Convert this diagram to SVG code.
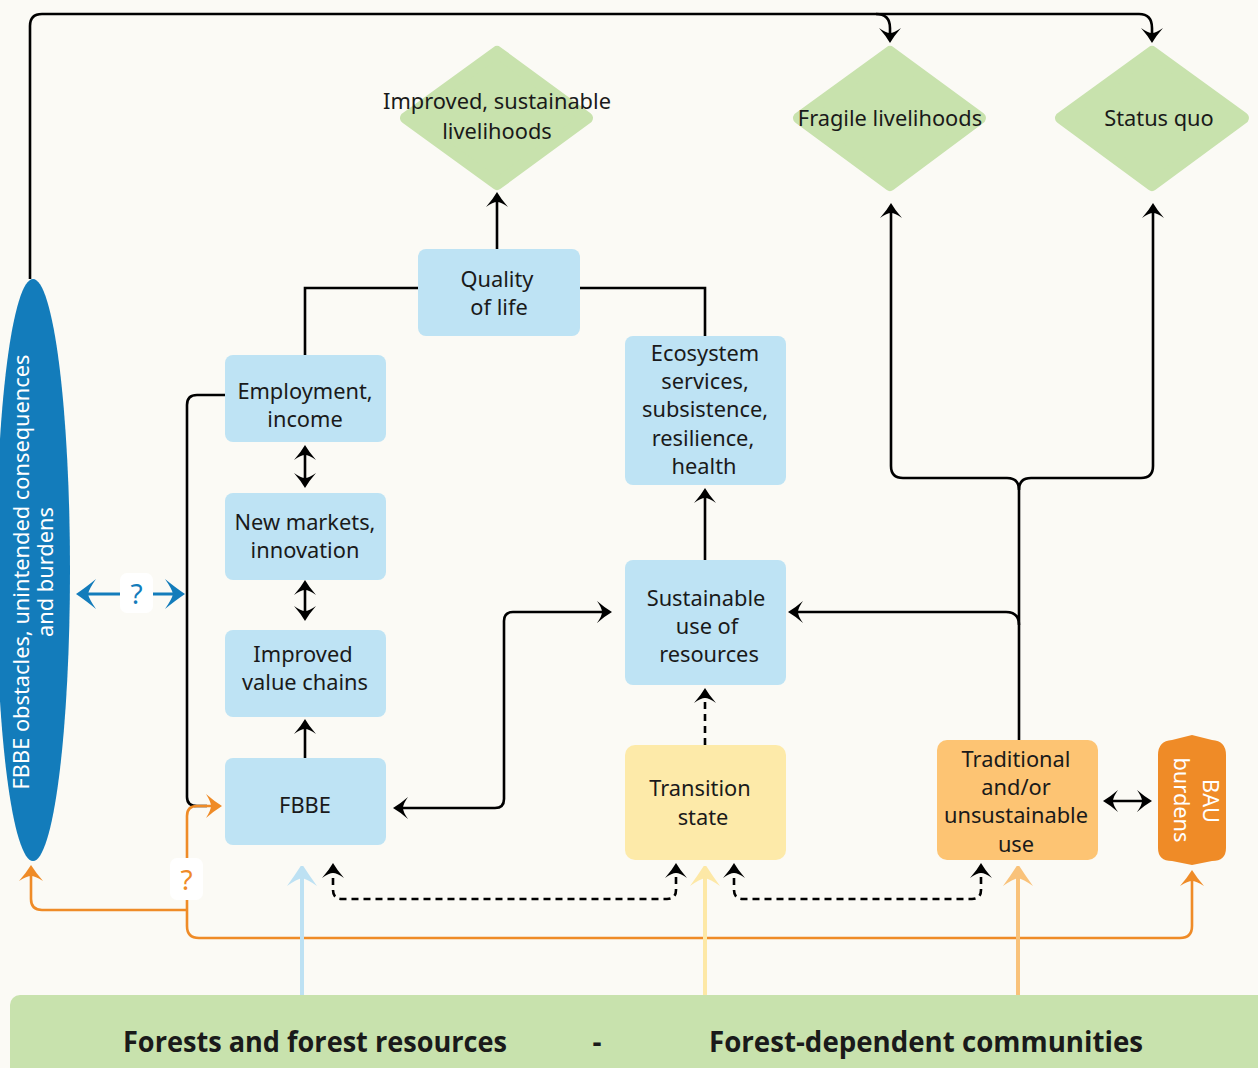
<svg xmlns="http://www.w3.org/2000/svg" width="1258" height="1068" viewBox="0 0 1258 1068">
<style>
text{font-family:"Noto Sans","Open Sans","Liberation Sans",sans-serif;font-size:21.8px;fill:#1a1a1a;text-anchor:middle}
.w{fill:#ffffff}
.box{fill:#BEE3F4}
.dia{fill:#C8E2AD;stroke:#C8E2AD;stroke-width:12;stroke-linejoin:round}
.k{fill:none;stroke:#000;stroke-width:2.6}
.d{fill:none;stroke:#000;stroke-width:2.6;stroke-dasharray:7 5}
.ka{marker-end:url(#ah)}
.kb{marker-start:url(#ah);marker-end:url(#ah)}
.band{font-family:"Open Sans","Liberation Sans",sans-serif;font-weight:bold;font-size:28px}
.q{font-size:28px}
</style>
<defs>
<marker id="ah" viewBox="-14 -12 18 24" refX="0" refY="0" markerWidth="18" markerHeight="24" orient="auto-start-reverse" markerUnits="userSpaceOnUse"><path d="M3,0 Q-4,-4 -12,-11 Q-7,-4 -7,0 Q-7,4 -12,11 Q-4,4 3,0 Z" fill="#000"/></marker>
<marker id="ahb" viewBox="-20 -16 24 32" refX="0" refY="0" markerWidth="24" markerHeight="32" orient="auto-start-reverse" markerUnits="userSpaceOnUse"><path d="M3,0 Q-6,-6 -17,-15 Q-10,-5 -9,0 Q-10,5 -17,15 Q-6,6 3,0 Z" fill="#137CBB"/></marker>
<marker id="aho" viewBox="-16 -13 20 26" refX="0" refY="0" markerWidth="20" markerHeight="26" orient="auto-start-reverse" markerUnits="userSpaceOnUse"><path d="M3,0 Q-5,-5 -13,-12 Q-8,-4 -8,0 Q-8,4 -13,12 Q-5,5 3,0 Z" fill="#EF8B27"/></marker>
<marker id="ahlb" viewBox="-20 -16 24 32" refX="0" refY="0" markerWidth="24" markerHeight="32" orient="auto" markerUnits="userSpaceOnUse"><path d="M6,0 Q-5,-7 -16,-15 Q-9,-5 -8,0 Q-9,5 -16,15 Q-5,7 6,0 Z" fill="#BDE1F3"/></marker>
<marker id="ahly" viewBox="-20 -16 24 32" refX="0" refY="0" markerWidth="24" markerHeight="32" orient="auto" markerUnits="userSpaceOnUse"><path d="M6,0 Q-5,-7 -16,-15 Q-9,-5 -8,0 Q-9,5 -16,15 Q-5,7 6,0 Z" fill="#FDE8A6"/></marker>
<marker id="ahlo" viewBox="-20 -16 24 32" refX="0" refY="0" markerWidth="24" markerHeight="32" orient="auto" markerUnits="userSpaceOnUse"><path d="M6,0 Q-5,-7 -16,-15 Q-9,-5 -8,0 Q-9,5 -16,15 Q-5,7 6,0 Z" fill="#F9C27A"/></marker>
</defs>
<rect width="1258" height="1068" fill="#FBFAF5"/>

<g id="connectors">
<path class="k" d="M30,279 V26 Q30,14 42,14 H876 Q890,14 890,28 V40" marker-end="url(#ah)"/>
<path class="k" d="M876,14 H1139 Q1152,14 1152,28 V40" marker-end="url(#ah)"/>
<path class="k ka" d="M497,249 V195"/>
<path class="k" d="M305,355 V288 H418"/>
<path class="k" d="M705,336 V288 H580"/>
<path class="k kb" d="M305,448 V485"/>
<path class="k kb" d="M305,583 V618"/>
<path class="k ka" d="M305,758 V722"/>
<path class="k" d="M225,395 H197 Q187,395 187,405 V797 Q187,806 197,806 H207"/>
<path class="k kb" d="M396,808 H495 Q504,808 504,799 V621 Q504,612 513,612 H609"/>
<path class="k ka" d="M705,560 V491"/>
<path class="d ka" d="M705,745 V691"/>
<path class="k" d="M1019,740 V490 Q1019,478 1007,478 H903 Q891,478 891,466 V206" marker-end="url(#ah)"/>
<path class="k" d="M1019,490 Q1019,478 1031,478 H1141 Q1153,478 1153,466 V206" marker-end="url(#ah)"/>
<path class="k ka" d="M1019,625 Q1019,612 1006,612 H791"/>
<path class="k kb" d="M1106,801 H1149"/>
<path class="d kb" d="M333,866 V890 Q333,899 342,899 H667 Q676,899 676,890 V866"/>
<path class="d kb" d="M734,866 V890 Q734,899 743,899 H972 Q981,899 981,890 V866"/>
<path d="M79,594 H182" fill="none" stroke="#137CBB" stroke-width="3" marker-start="url(#ahb)" marker-end="url(#ahb)"/>
<path d="M1192,873 V926 Q1192,938 1180,938 H199 Q187,938 187,926 V816 Q187,806 197,806 H219" fill="none" stroke="#EF8B27" stroke-width="2.6" marker-start="url(#aho)" marker-end="url(#aho)"/>
<path d="M187,910 H42 Q31,910 31,899 V868" fill="none" stroke="#EF8B27" stroke-width="2.6" marker-end="url(#aho)"/>
<path d="M302,995 V870" fill="none" stroke="#BDE1F3" stroke-width="4" marker-end="url(#ahlb)"/>
<path d="M705,995 V870" fill="none" stroke="#FDE8A6" stroke-width="4" marker-end="url(#ahly)"/>
<path d="M1018,995 V870" fill="none" stroke="#F9C27A" stroke-width="4" marker-end="url(#ahlo)"/>
<rect x="120" y="573" width="33" height="40" rx="7" fill="#fff"/>
<text class="q" x="136.5" y="604" style="fill:#137CBB">?</text>
<rect x="170" y="858" width="33" height="42" rx="7" fill="#fff"/>
<text class="q" x="186.5" y="890" style="fill:#EF8B27">?</text>
</g>

<g id="n-improved-livelihoods">
<polygon class="dia" points="497,52 587,118 497,184 406,118"/>
<text x="497" y="109">Improved, sustainable</text>
<text x="497" y="139">livelihoods</text>
</g>
<g id="n-fragile">
<polygon class="dia" points="890,52 980,118 890,185 799,118"/>
<text x="890" y="126">Fragile livelihoods</text>
</g>
<g id="n-statusquo">
<polygon class="dia" points="1152,52 1243,118 1152,185 1061,118"/>
<text x="1159" y="126">Status quo</text>
</g>
<g id="n-quality">
<rect class="box" x="418" y="249" width="162" height="87" rx="8"/>
<text x="497" y="287">Quality</text>
<text x="499" y="315">of life</text>
</g>
<g id="n-employment">
<rect class="box" x="225" y="355" width="161" height="87" rx="8"/>
<text x="305" y="399">Employment,</text>
<text x="305" y="427">income</text>
</g>
<g id="n-newmarkets">
<rect class="box" x="225" y="493" width="161" height="87" rx="8"/>
<text x="305" y="530">New markets,</text>
<text x="305" y="558">innovation</text>
</g>
<g id="n-valuechains">
<rect class="box" x="225" y="630" width="161" height="87" rx="8"/>
<text x="303" y="662">Improved</text>
<text x="305" y="690">value chains</text>
</g>
<g id="n-fbbe">
<rect class="box" x="225" y="758" width="161" height="87" rx="8"/>
<text x="305" y="813">FBBE</text>
</g>
<g id="n-ecosystem">
<rect class="box" x="625" y="336" width="161" height="149" rx="8"/>
<text x="705" y="361">Ecosystem</text>
<text x="705" y="389">services,</text>
<text x="705" y="417">subsistence,</text>
<text x="703" y="446">resilience,</text>
<text x="704" y="474">health</text>
</g>
<g id="n-sustainable">
<rect class="box" x="625" y="560" width="161" height="125" rx="8"/>
<text x="706" y="606">Sustainable</text>
<text x="707" y="634">use of</text>
<text x="709" y="662">resources</text>
</g>
<g id="n-transition">
<rect x="625" y="745" width="161" height="115" rx="10" fill="#FDEAA9"/>
<text x="700" y="796">Transition</text>
<text x="703" y="825">state</text>
</g>
<g id="n-traditional">
<rect x="937" y="740" width="161" height="120" rx="10" fill="#FDC473"/>
<text x="1016" y="767">Traditional</text>
<text x="1016" y="795">and/or</text>
<text x="1016" y="823">unsustainable</text>
<text x="1016" y="852">use</text>
</g>
<g id="n-bau">
<path d="M1172,740 L1192,735 L1212,740 Q1226,741 1226,755 V848 Q1226,861 1212,861 L1192,865 L1172,861 Q1158,861 1158,848 V755 Q1158,741 1172,740 Z" fill="#EF8B27"/>
<text class="w" transform="translate(1203,801) rotate(90)">BAU</text>
<text class="w" transform="translate(1174,800) rotate(90)">burdens</text>
</g>
<g id="n-obstacles">
<ellipse cx="33" cy="570" rx="37" ry="291" fill="#137CBB"/>
<text class="w" transform="translate(29,572) rotate(-90)">FBBE obstacles, unintended consequences</text>
<text class="w" transform="translate(53,572) rotate(-90)">and burdens</text>
</g>
<g id="n-band">
<rect x="10" y="995" width="1262" height="90" rx="10" fill="#C8E2AD"/>
<text class="band" x="315" y="1052" textLength="384" lengthAdjust="spacingAndGlyphs">Forests and forest resources</text>
<text class="band" x="597" y="1052">-</text>
<text class="band" x="926" y="1052" textLength="434" lengthAdjust="spacingAndGlyphs">Forest-dependent communities</text>
</g>
</svg>
